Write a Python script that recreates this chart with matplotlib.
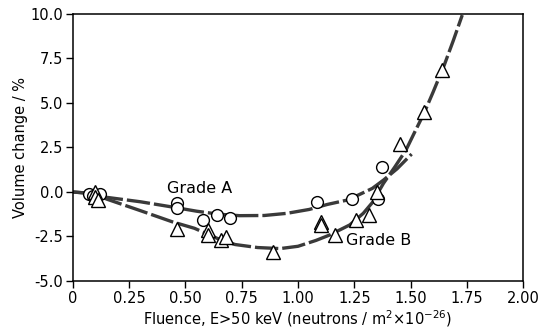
import matplotlib.pyplot as plt
import numpy as np

plt.rcParams['axes.unicode_minus'] = False
plt.rcParams['font.family'] = 'DejaVu Sans'

# Measured points, grade A (circles) and grade B (triangles)
grade_a_x = [0.07, 0.09, 0.12, 0.464, 0.464, 0.579, 0.641, 0.698, 1.083, 1.239, 1.354, 1.372]
grade_a_y = [-0.1, -0.2, -0.1, -0.64, -0.92, -1.57, -1.29, -1.48, -0.58, -0.39, -0.4, 1.42]

grade_b_x = [0.10, 0.10, 0.11, 0.464, 0.598, 0.601, 0.659, 0.68, 0.89, 1.101, 1.101,
             1.164, 1.258, 1.317, 1.35, 1.453, 1.56, 1.638]
grade_b_y = [0.0, -0.3, -0.45, -2.08, -2.13, -2.42, -2.70, -2.55, -3.35, -1.67, -1.85,
             -2.42, -1.57, -1.29, 0.0, 2.70, 4.48, 6.85]

fit_a_x = [0.0, 0.10, 0.15, 0.30, 0.43, 0.55, 0.65, 0.74, 0.85, 0.95, 1.05, 1.13,
           1.22, 1.28, 1.33, 1.38, 1.44, 1.505]
fit_a_y = [0.0, -0.1, -0.3, -0.55, -0.82, -1.08, -1.25, -1.33, -1.32, -1.2, -0.98, -0.7,
           -0.45, -0.1, 0.2, 0.67, 1.3, 2.13]

fit_b_x = [0.0, 0.10, 0.15, 0.30, 0.44, 0.54, 0.64, 0.72, 0.82, 0.92, 1.0, 1.08, 1.14,
           1.23, 1.29, 1.33, 1.38, 1.43, 1.48, 1.52, 1.56, 1.60, 1.65, 1.69, 1.73]
fit_b_y = [0.0, -0.1, -0.4, -1.05, -1.67, -2.04, -2.6, -2.95, -3.12, -3.18, -3.05, -2.72,
           -2.42, -1.85, -1.2, -0.6, 0.49, 1.4, 2.36, 3.4, 4.42, 5.6, 7.13, 8.5, 9.94]

x_ticks = [0, 0.25, 0.50, 0.75, 1.00, 1.25, 1.50, 1.75, 2.00]
x_tick_labels = ['0', '0.25', '0.50', '0.75', '1.00', '1.25', '1.50', '1.75', '2.00']
y_ticks = [-5.0, -2.5, 0.0, 2.5, 5.0, 7.5, 10.0]

fig = plt.figure(figsize=(5.48, 3.30), dpi=100)
ax = fig.add_axes([0.1332, 0.1485, 0.8212, 0.8091])

line_style = dict(color='#3a3a3a', lw=2.4, linestyle=(0, (7, 1.2)), zorder=2)
ax.plot(fit_a_x, fit_a_y, **line_style)
ax.plot(fit_b_x, fit_b_y, **line_style)

ax.plot(grade_a_x, grade_a_y, 'o', ms=8.5, mfc='white', mec='black', mew=1.0, zorder=3)
ax.plot(grade_b_x, grade_b_y, '^', ms=9.5, mfc='white', mec='black', mew=1.0, zorder=3)

ax.text(0.42, -0.06, 'Grade A', fontsize=11.5, va='baseline', ha='left')
ax.text(1.215, -2.98, 'Grade B', fontsize=11.5, va='baseline', ha='left')

ax.set_xlim(0, 2.0)
ax.set_ylim(-5.0, 10.0)
ax.set_xticks(x_ticks)
ax.set_xticklabels(x_tick_labels)
ax.set_yticks(y_ticks)
ax.set_yticklabels([f'{v:.1f}' for v in y_ticks])
ax.tick_params(direction='out', length=5, width=1.0, labelsize=10.5, pad=2)

for side in ax.spines.values():
    side.set_linewidth(1.1)

ax.set_xlabel(r'Fluence, E>50 keV (neutrons / m$^2$×10$^{-26}$)', fontsize=10.5, labelpad=2)
ax.set_ylabel('Volume change / %', fontsize=10.5, labelpad=2)

fig.savefig('out.png', dpi=100)
